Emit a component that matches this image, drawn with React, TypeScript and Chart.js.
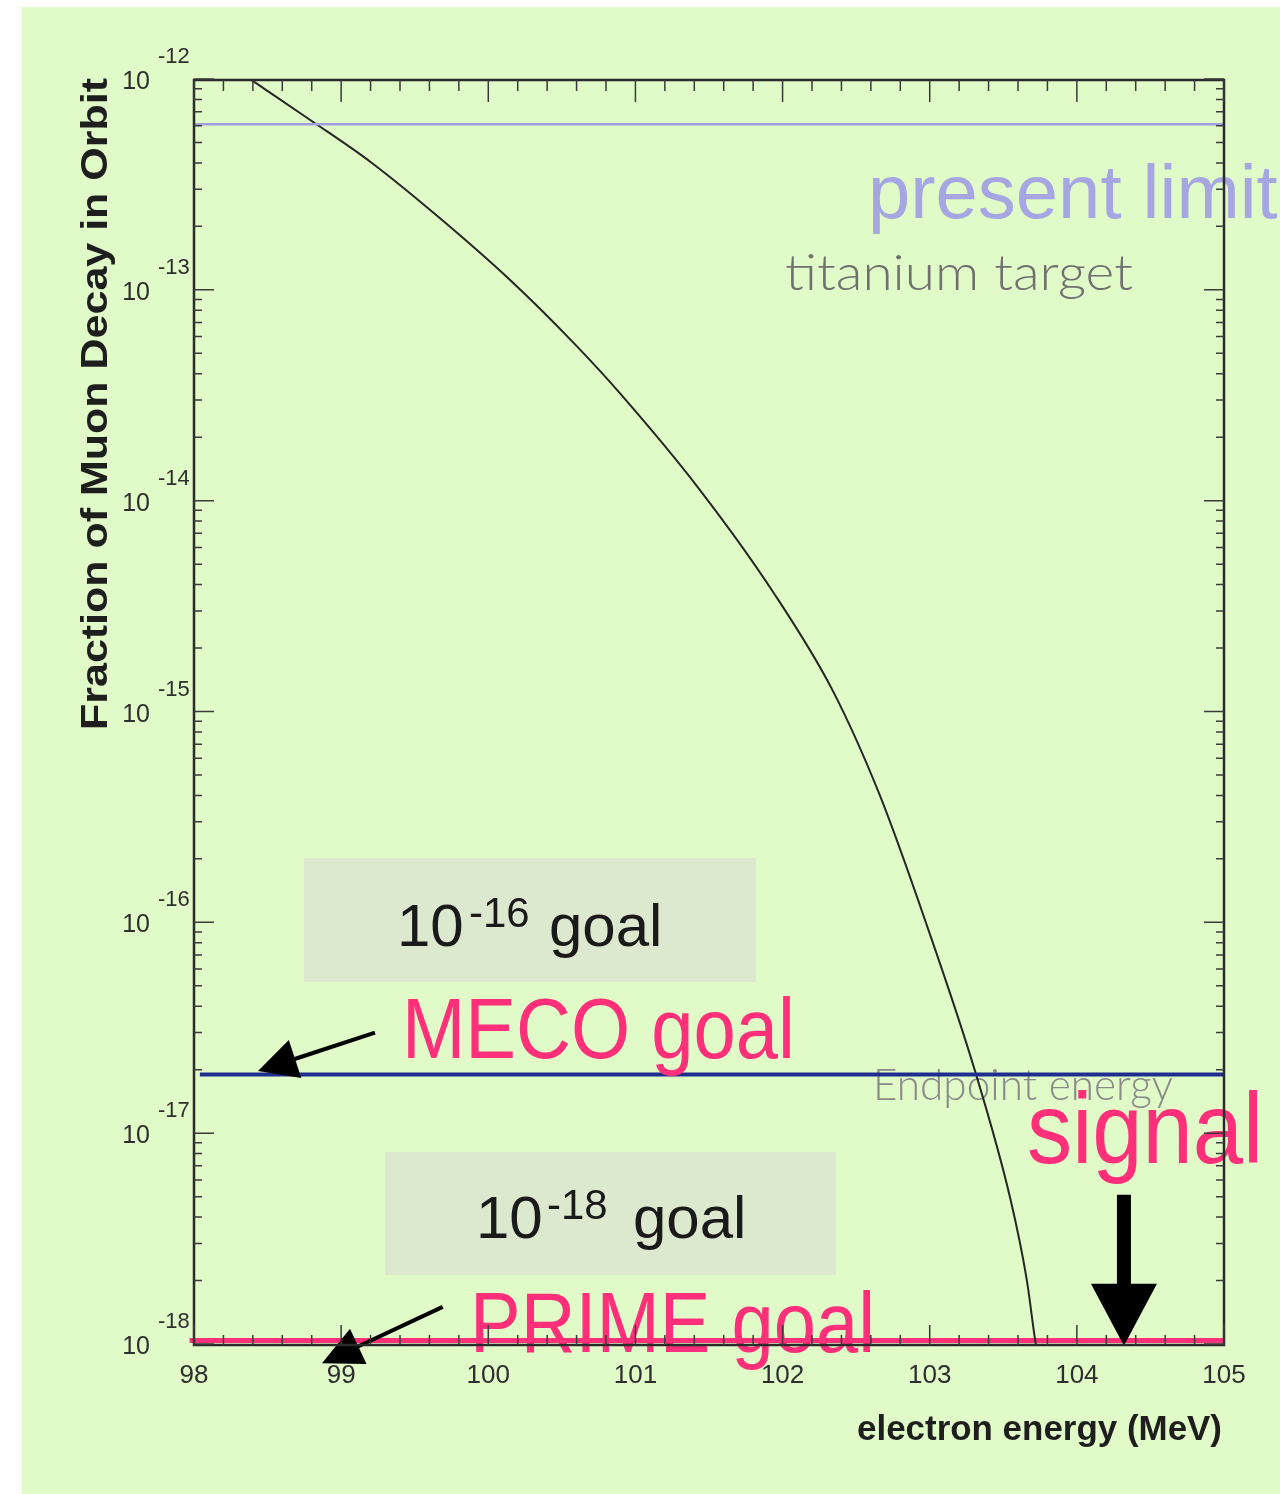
import { useEffect, useRef } from "react";
import { Chart, registerables } from "chart.js";

Chart.register(...registerables);

// ---- axis ranges & ticks ----
const X_MIN = 98;
const X_MAX = 105;
const Y_MIN = 1e-18;
const Y_MAX = 1e-12;
const xTickValues = [98, 99, 100, 101, 102, 103, 104, 105];
const xTickLabels = ["98", "99", "100", "101", "102", "103", "104", "105"];
const yDecadeExponents = [-12, -13, -14, -15, -16, -17, -18];
const yDecadeLabels = ["-12", "-13", "-14", "-15", "-16", "-17", "-18"];

// ---- muon decay-in-orbit spectrum ----
const dioEnergy = [
  98.38, 98.79, 99.2, 99.67, 100.15, 100.58, 100.9, 101.44, 101.94, 102.34,
  102.66, 102.98, 103.31, 103.55, 103.66, 103.72, 103.735,
];
const dioFraction = [
  1.0e-12, 6.39e-13, 4.04e-13, 2.19e-13, 1.11e-13, 5.6e-14, 3.2e-14, 1.12e-14,
  3.65e-15, 1.26e-15, 4.02e-16, 9.7e-17, 1.95e-17, 4.82e-18, 2.01e-18, 1.01e-18,
  0.9e-18,
];

// ---- horizontal reference levels ----
const presentLimit = 6.1e-13;
const mecoGoal = 1.9e-17;
const primeGoal = 1.04e-18;
const signalEnergy = 104.32;

// ---- annotation arrows (data coordinates: [energy, fraction]) ----
const mecoArrowFrom = [99.23, 3.0e-17];
const mecoArrowTo = [98.435, 1.97e-17];
const primeArrowFrom = [99.69, 1.5e-18];
const primeArrowTo = [98.87, 8.1e-19];
const signalArrowFrom = [signalEnergy, 5.1e-18];
const signalArrowTo = [signalEnergy, 9.8e-19];

const BG = "rgb(224,250,200)";
const PINK = "#ff2f7a";
const SANS = "'Liberation Sans', Arial, Helvetica, sans-serif";

function drawText(
  ctx: any,
  s: string,
  x: number,
  y: number,
  font: string,
  color: string,
  fitWidth?: number,
  rotate?: number
) {
  ctx.save();
  ctx.font = font;
  ctx.fillStyle = color;
  ctx.textAlign = "left";
  ctx.textBaseline = "alphabetic";
  const w0 = ctx.measureText(s).width;
  const sx = fitWidth ? fitWidth / w0 : 1;
  ctx.translate(x, y);
  if (rotate) ctx.rotate(rotate);
  ctx.scale(sx, 1);
  ctx.fillText(s, 0, 0);
  ctx.restore();
}

function drawArrow(
  ctx: any,
  x1: number,
  y1: number,
  x2: number,
  y2: number,
  lineW: number,
  headLen: number,
  headW: number
) {
  const ang = Math.atan2(y2 - y1, x2 - x1);
  const bx = x2 - headLen * Math.cos(ang);
  const by = y2 - headLen * Math.sin(ang);
  ctx.save();
  ctx.strokeStyle = "#000";
  ctx.fillStyle = "#000";
  ctx.lineWidth = lineW;
  ctx.lineCap = "butt";
  ctx.beginPath();
  ctx.moveTo(x1, y1);
  ctx.lineTo(bx + Math.cos(ang) * 2, by + Math.sin(ang) * 2);
  ctx.stroke();
  const px = -Math.sin(ang) * (headW / 2);
  const py = Math.cos(ang) * (headW / 2);
  ctx.beginPath();
  ctx.moveTo(x2, y2);
  ctx.lineTo(bx + px, by + py);
  ctx.lineTo(bx - px, by - py);
  ctx.closePath();
  ctx.fill();
  ctx.restore();
}

const decoPlugin = {
  id: "deco",
  beforeDraw(chart: any) {
    const ctx = chart.ctx;
    ctx.save();
    ctx.fillStyle = "#ffffff";
    ctx.fillRect(0, 0, chart.width, chart.height);
    ctx.fillStyle = BG;
    ctx.fillRect(22, 7, chart.width - 22, chart.height - 7);
    ctx.restore();
  },
  beforeDatasetsDraw(chart: any) {
    const ctx = chart.ctx;
    // goal boxes
    ctx.save();
    ctx.fillStyle = "#dde9cf";
    ctx.fillRect(304, 858, 452, 124);
    ctx.fillRect(385, 1152, 451, 123);
    ctx.restore();
    // faint labels under the data
    drawText(ctx, "present limit", 868, 218, `76px ${SANS}`, "rgb(166,166,226)");
    drawText(ctx, "titanium target", 785, 290, `300 50px Lato, 'DejaVu Sans', sans-serif`, "#707070", 348);
    drawText(ctx, "Endpoint energy", 873, 1100, `300 44px Lato, 'DejaVu Sans', sans-serif`, "#8a8a8a", 300);
  },
  afterDatasetsDraw(chart: any) {
    const ctx = chart.ctx;
    const xs = chart.scales.x;
    const ys = chart.scales.y;
    const { left, right, top, bottom } = chart.chartArea;

    // box texts
    drawText(ctx, "10", 397, 946, `60px ${SANS}`, "#1a1a1a");
    drawText(ctx, "-16", 469, 927, `42px ${SANS}`, "#1a1a1a");
    drawText(ctx, "goal", 549, 946, `60px ${SANS}`, "#1a1a1a");
    drawText(ctx, "10", 476, 1238, `60px ${SANS}`, "#1a1a1a");
    drawText(ctx, "-18", 547, 1219, `42px ${SANS}`, "#1a1a1a");
    drawText(ctx, "goal", 633, 1238, `60px ${SANS}`, "#1a1a1a");

    // pink labels
    drawText(ctx, "MECO goal", 402, 1058, `85px ${SANS}`, PINK, 393);
    drawText(ctx, "PRIME goal", 470, 1352, `85px ${SANS}`, PINK, 405);
    drawText(ctx, "signal", 1027, 1163, `100px ${SANS}`, PINK, 236);

    // arrows
    const P = (p: number[]) => [xs.getPixelForValue(p[0]), ys.getPixelForValue(p[1])];
    let a = P(mecoArrowFrom), b = P(mecoArrowTo);
    drawArrow(ctx, a[0], a[1], b[0], b[1], 4, 39, 40);
    a = P(primeArrowFrom); b = P(primeArrowTo);
    drawArrow(ctx, a[0], a[1], b[0], b[1], 4, 40, 39);
    a = P(signalArrowFrom); b = P(signalArrowTo);
    drawArrow(ctx, a[0], a[1], b[0], b[1], 14, 62, 66);

    // frame
    ctx.save();
    ctx.strokeStyle = "#2b2b2b";
    ctx.lineWidth = 2.5;
    ctx.strokeRect(left, top + 1, right - left, bottom - top);
    ctx.lineWidth = 1.5;
    ctx.strokeStyle = "#3a3a3a";
    ctx.beginPath();
    // x ticks
    for (let i = 0; i <= 35; i++) {
      const v = X_MIN + i * 0.2;
      const px = xs.getPixelForValue(v);
      const major = i % 5 === 0;
      const lb = major ? 20 : 10;
      const lt = major ? 22 : 11;
      ctx.moveTo(px, bottom + 1);
      ctx.lineTo(px, bottom + 1 - lb);
      ctx.moveTo(px, top + 1);
      ctx.lineTo(px, top + 1 + lt);
    }
    // y ticks
    for (let e = -18; e <= -12; e++) {
      const py = ys.getPixelForValue(Math.pow(10, e));
      ctx.moveTo(left, py);
      ctx.lineTo(left + 20, py);
      ctx.moveTo(right, py);
      ctx.lineTo(right - 20, py);
      if (e < -12) {
        for (let k = 2; k <= 9; k++) {
          const pm = ys.getPixelForValue(k * Math.pow(10, e));
          ctx.moveTo(left, pm);
          ctx.lineTo(left + 8, pm);
          ctx.moveTo(right, pm);
          ctx.lineTo(right - 8, pm);
        }
      }
    }
    ctx.stroke();
    ctx.restore();

    // tick labels
    const tc = "#2e2e2e";
    xTickValues.forEach((v, i) => {
      const px = xs.getPixelForValue(v);
      ctx.save();
      ctx.font = `26px ${SANS}`;
      const w = ctx.measureText(xTickLabels[i]).width;
      ctx.restore();
      drawText(ctx, xTickLabels[i], px - w / 2, 1383, `26px ${SANS}`, tc);
    });
    yDecadeExponents.forEach((e, i) => {
      const py = ys.getPixelForValue(Math.pow(10, e));
      ctx.save();
      ctx.font = `25px ${SANS}`;
      const w = ctx.measureText("10").width;
      ctx.restore();
      drawText(ctx, "10", 150 - w, py + 10, `25px ${SANS}`, tc);
      drawText(ctx, yDecadeLabels[i], 158, py - 16, `22px ${SANS}`, tc);
    });

    // axis titles
    drawText(ctx, "electron energy (MeV)", 857, 1440, `bold 35px ${SANS}`, "#1e1e1e", 365);
    drawText(ctx, "Fraction of Muon Decay in Orbit", 107, 730, `bold 37px ${SANS}`, "#1e1e1e", 652, -Math.PI / 2);
  },
};

export default function App() {
  const ref = useRef<HTMLCanvasElement>(null);
  useEffect(() => {
    const canvas = ref.current;
    if (!canvas) return;
    const curve = dioEnergy.map((e, i) => ({ x: e, y: dioFraction[i] }));
    const chart = new Chart(canvas, {
      type: "line",
      data: {
        datasets: [
          {
            label: "present limit",
            data: [
              { x: X_MIN, y: presentLimit },
              { x: X_MAX, y: presentLimit },
            ],
            borderColor: "rgb(160,160,225)",
            borderWidth: 2.5,
            pointRadius: 0,
          },
          {
            label: "MECO goal",
            data: [
              { x: 98.04, y: mecoGoal },
              { x: X_MAX, y: mecoGoal },
            ],
            borderColor: "#1f2d8e",
            borderWidth: 4,
            pointRadius: 0,
          },
          {
            label: "Muon decay in orbit",
            data: curve,
            borderColor: "#262626",
            borderWidth: 2,
            pointRadius: 0,
            cubicInterpolationMode: "monotone",
          },
          {
            label: "PRIME goal",
            data: [
              { x: 97.97, y: primeGoal },
              { x: X_MAX, y: primeGoal },
            ],
            borderColor: PINK,
            borderWidth: 5,
            pointRadius: 0,
            clip: { left: 8, right: 0, top: 0, bottom: 8 },
          },
        ] as any,
      },
      options: {
        animation: false,
        responsive: false,
        devicePixelRatio: 1,
        layout: { padding: { left: 194, right: 56, top: 79, bottom: 150 } },
        plugins: { legend: { display: false }, tooltip: { enabled: false } },
        scales: {
          x: { type: "linear", min: X_MIN, max: X_MAX, display: false },
          y: { type: "logarithmic", min: Y_MIN, max: Y_MAX, display: false },
        },
      } as any,
      plugins: [decoPlugin],
    });
    return () => chart.destroy();
  }, []);
  return (
    <div style={{ position: "absolute", left: 0, top: 0, width: 1280, height: 1494 }}>
      <canvas ref={ref} width={1280} height={1494} style={{ display: "block", width: 1280, height: 1494 }} />
    </div>
  );
}
